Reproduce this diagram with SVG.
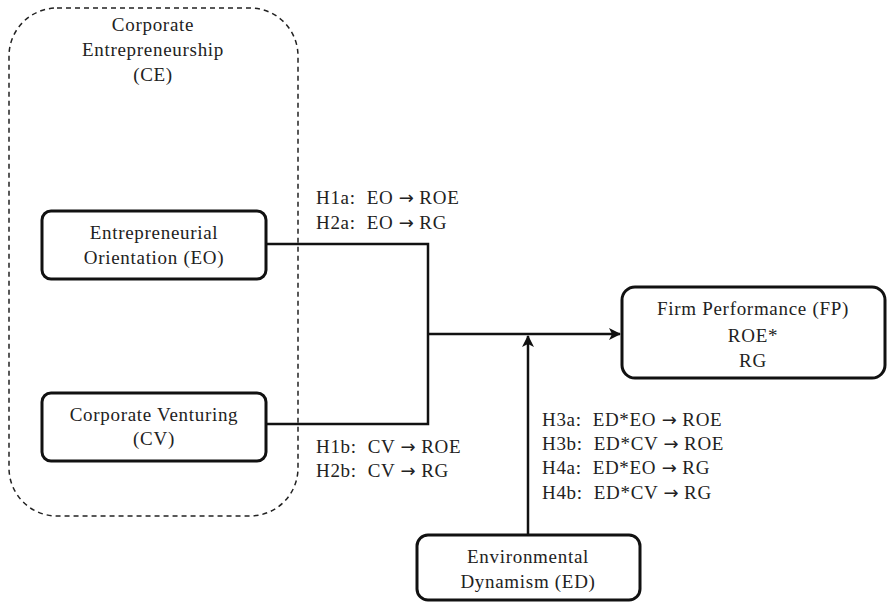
<svg xmlns="http://www.w3.org/2000/svg" width="887" height="603" viewBox="0 0 887 603">
<defs>
<style>
text{font-family:'Liberation Serif','Times New Roman','DejaVu Serif',serif;font-size:19px;letter-spacing:0.7px;fill:#222}
.c{text-anchor:middle}
.ar{font-family:'DejaVu Sans',sans-serif;font-size:18px;letter-spacing:0}
.box{fill:#fff;stroke:#111;stroke-width:3}
.ln{fill:none;stroke:#111;stroke-width:2.5}
</style>
<marker id="ah" viewBox="0 0 12 12" refX="11" refY="6" markerWidth="12" markerHeight="12" markerUnits="userSpaceOnUse" orient="auto">
<path d="M0,0 L12,6 L0,12 L3,6 Z" fill="#111"/>
</marker>
</defs>
<g id="CE">
<rect x="9" y="8" width="289" height="508" rx="48" fill="none" stroke="#222" stroke-width="1.5" stroke-dasharray="5,4"/>
<text class="c" x="153" y="31">Corporate</text>
<text class="c" x="153" y="56">Entrepreneurship</text>
<text class="c" x="153" y="81">(CE)</text>
</g>
<g id="connectors">
<polyline class="ln" points="266,244 428,244 428,424 266,424"/>
<line class="ln" x1="428" y1="334" x2="620" y2="334" marker-end="url(#ah)"/>
<line class="ln" x1="528" y1="535" x2="528" y2="336" marker-end="url(#ah)"/>
</g>
<g id="EO">
<rect class="box" x="42" y="211" width="224" height="68" rx="9"/>
<text class="c" x="154" y="239">Entrepreneurial</text>
<text class="c" x="154" y="264">Orientation (EO)</text>
</g>
<g id="CV">
<rect class="box" x="42" y="393" width="224" height="68" rx="9"/>
<text class="c" x="154" y="421">Corporate Venturing</text>
<text class="c" x="154" y="445">(CV)</text>
</g>
<g id="FP">
<rect class="box" x="622" y="287" width="263" height="91" rx="13"/>
<text class="c" x="753" y="315">Firm Performance (FP)</text>
<text class="c" x="753" y="342">ROE*</text>
<text class="c" x="753" y="367">RG</text>
</g>
<g id="ED">
<rect class="box" x="417" y="535" width="223" height="65" rx="11"/>
<text class="c" x="528" y="563">Environmental</text>
<text class="c" x="528" y="588">Dynamism (ED)</text>
</g>
<g id="labels">
<text x="316" y="204" xml:space="preserve">H1a:  EO <tspan class="ar">→</tspan> ROE</text>
<text x="316" y="229" xml:space="preserve">H2a:  EO <tspan class="ar">→</tspan> RG</text>
<text x="316" y="453" xml:space="preserve">H1b:  CV <tspan class="ar">→</tspan> ROE</text>
<text x="316" y="477" xml:space="preserve">H2b:  CV <tspan class="ar">→</tspan> RG</text>
<text x="542" y="426" xml:space="preserve">H3a:  ED*EO <tspan class="ar">→</tspan> ROE</text>
<text x="542" y="450" xml:space="preserve">H3b:  ED*CV <tspan class="ar">→</tspan> ROE</text>
<text x="542" y="474" xml:space="preserve">H4a:  ED*EO <tspan class="ar">→</tspan> RG</text>
<text x="542" y="499" xml:space="preserve">H4b:  ED*CV <tspan class="ar">→</tspan> RG</text>
</g>
</svg>
